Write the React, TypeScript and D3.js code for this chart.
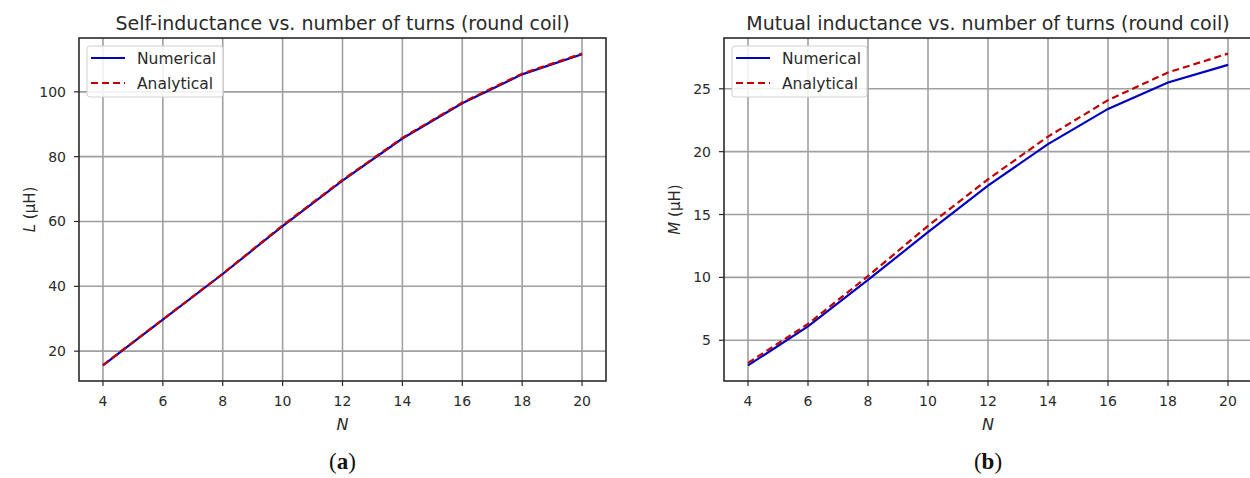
import React from "react";
import * as d3 from "d3";

// number of turns
const turns = [4, 6, 8, 10, 12, 14, 16, 18, 20];
// self-inductance (uH)
const selfNumerical = [15.6, 29.7, 43.8, 58.6, 72.6, 85.6, 96.5, 105.4, 111.6];
const selfAnalytical = [15.7, 29.8, 43.9, 58.8, 72.8, 85.8, 96.7, 105.6, 111.8];
// mutual inductance (uH)
const mutualNumerical = [3.0, 6.1, 9.8, 13.6, 17.3, 20.6, 23.4, 25.5, 26.9];
const mutualAnalytical = [3.2, 6.3, 10.1, 14.1, 17.8, 21.2, 24.1, 26.3, 27.8];

const xTicks = [4, 6, 8, 10, 12, 14, 16, 18, 20];
const selfTicks = [20, 40, 60, 80, 100];
const mutualTicks = [5, 10, 15, 20, 25];

const FONT = "DejaVu Sans, sans-serif";
const BLUE = "#0000c0";
const RED = "#c00000";
const GRID = "#a0a0a0";
const INK = "#2a2a2a";

type PanelProps = {
  left: number;
  right: number;
  title: string;
  yVar: string;
  caption: string;
  legendW: number;
  numerical: number[];
  analytical: number[];
  yTicks: number[];
};

function Panel(p: PanelProps) {
  const top = 38;
  const bottom = 381;
  const ext = d3.extent([...p.numerical, ...p.analytical]) as [number, number];
  const pad = (ext[1] - ext[0]) * 0.05;
  const x = d3.scaleLinear().domain([3.2, 20.8]).range([p.left, p.right]);
  const y = d3.scaleLinear().domain([ext[0] - pad, ext[1] + pad]).range([bottom, top]);
  const line = d3
    .line<number>()
    .x((d, i) => x(turns[i]))
    .y((d) => y(d));
  const cx = x(12);
  const lx = p.left + 8;
  return (
    <g fontFamily={FONT}>
      <text x={cx} y={30} textAnchor="middle" fontSize={19} fill={INK}>
        {p.title}
      </text>
      {xTicks.map((t) => (
        <g key={"x" + t}>
          <line x1={x(t)} x2={x(t)} y1={top} y2={bottom} stroke={GRID} strokeWidth={1.6} />
          <line x1={x(t)} x2={x(t)} y1={bottom} y2={bottom + 5} stroke={INK} strokeWidth={1.2} />
          <text x={x(t)} y={406} textAnchor="middle" fontSize={14} fill={INK}>
            {t}
          </text>
        </g>
      ))}
      {p.yTicks.map((t) => (
        <g key={"y" + t}>
          <line x1={p.left} x2={p.right} y1={y(t)} y2={y(t)} stroke={GRID} strokeWidth={1.6} />
          <line x1={p.left - 5} x2={p.left} y1={y(t)} y2={y(t)} stroke={INK} strokeWidth={1.2} />
          <text x={p.left - 13} y={y(t) + 5} textAnchor="end" fontSize={14} fill={INK}>
            {t}
          </text>
        </g>
      ))}
      <path d={line(p.numerical) || ""} fill="none" stroke={BLUE} strokeWidth={2.2} />
      <path
        d={line(p.analytical) || ""}
        fill="none"
        stroke={RED}
        strokeWidth={2.2}
        strokeDasharray="7,4"
      />
      <rect x={p.left} y={top} width={p.right - p.left} height={bottom - top} fill="none" stroke={INK} strokeWidth={1.6} />
      <rect x={lx} y={46} width={p.legendW} height={51} rx={3} fill="white" fillOpacity={0.85} stroke="#d0d0d0" />
      <line x1={lx + 4} x2={lx + 38} y1={58} y2={58} stroke={BLUE} strokeWidth={2.2} />
      <line x1={lx + 4} x2={lx + 38} y1={83} y2={83} stroke={RED} strokeWidth={2.2} strokeDasharray="7,4" />
      <text x={lx + 50} y={64} fontSize={15.5} fill={INK}>Numerical</text>
      <text x={lx + 50} y={89} fontSize={15.5} fill={INK}>Analytical</text>
      <text x={cx} y={430} textAnchor="middle" fontSize={16} fontStyle="italic" fill={INK}>
        N
      </text>
      <text
        transform={`translate(${p.left - 44},${(top + bottom) / 2}) rotate(-90)`}
        textAnchor="middle"
        fontSize={15}
        fill={INK}
      >
        <tspan fontStyle="italic">{p.yVar}</tspan> (μH)
      </text>
      <text x={cx} y={469} textAnchor="middle" fontSize={23} fontFamily="Liberation Serif, serif" fill="#111">
        (<tspan fontWeight="bold">{p.caption}</tspan>)
      </text>
    </g>
  );
}

export default function App() {
  return (
    <svg
      width={1250}
      height={478}
      style={{ position: "absolute", left: 0, top: 0, background: "white" }}
    >
      <rect width={1250} height={478} fill="white" />
      <Panel
        left={79}
        right={606}
        title="Self-inductance vs. number of turns (round coil)"
        yVar="L"
        caption="a"
        legendW={136}
        numerical={selfNumerical}
        analytical={selfAnalytical}
        yTicks={selfTicks}
      />
      <Panel
        left={724}
        right={1252}
        title="Mutual inductance vs. number of turns (round coil)"
        yVar="M"
        caption="b"
        legendW={135}
        numerical={mutualNumerical}
        analytical={mutualAnalytical}
        yTicks={mutualTicks}
      />
    </svg>
  );
}
